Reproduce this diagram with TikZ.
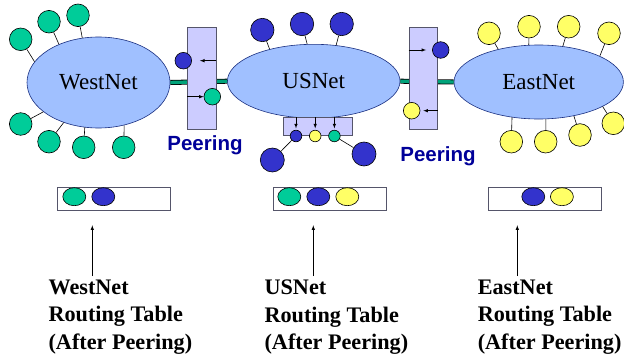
\documentclass[tikz,border=0pt]{standalone}
\usepackage{fontspec}
\setmainfont{Liberation Serif}
\setsansfont{Liberation Sans}
\usetikzlibrary{shapes}
\usetikzlibrary{positioning}

\definecolor{netfill}{HTML}{A0C0FF}
\definecolor{netline}{HTML}{1A2F80}
\definecolor{peerfill}{HTML}{CCCCFF}
\definecolor{peerline}{HTML}{55556A}
\definecolor{westgreen}{HTML}{00CC99}
\definecolor{usblue}{HTML}{3333CC}
\definecolor{eastyellow}{HTML}{FFFF66}
\definecolor{linkgreen}{HTML}{00A37A}
\definecolor{peertext}{HTML}{000099}

\begin{document}
\begin{tikzpicture}[x=1pt, y=-1pt, >=latex, line width=0.6pt,
            net/.style = {ellipse,draw=netline,fill=netfill,inner sep=0,
                font=\fontsize{23}{27}\selectfont},
            sat/.style = {circle,draw,inner sep=0,minimum size=22.6pt},
            peerbox/.style = {draw=peerline,fill=peerfill,inner sep=0},
            dot/.style = {circle,draw,inner sep=0,minimum size=16.6pt},
            tinydot/.style = {circle,draw,inner sep=0,minimum size=11.6pt},
            tabbox/.style = {draw=peerline,fill=white,inner sep=0,
                minimum width=113pt,minimum height=23pt},
            tabdot/.style = {ellipse,draw,inner sep=0,
                minimum width=23pt,minimum height=18pt},
            peerlabel/.style = {text=peertext,
                font=\sffamily\bfseries\fontsize{20.5}{24}\selectfont},
            tablabel/.style = {anchor=north west,align=left,inner sep=0,
                font=\bfseries\fontsize{22.2}{27.5}\selectfont},
            link/.style = {double=linkgreen,double distance=3.4pt,line width=0.8pt},
            tabarrow/.style = {->,shorten <=3.5pt,shorten >=14.7pt}]
    \useasboundingbox (0,0) rectangle (624,356);
    \node[net,minimum width=143pt,minimum height=91pt] (west) at (98.5,82.5) {WestNet};
    \node[net,minimum width=172.6pt,minimum height=73.8pt] (us) at (313.7,81.2) {USNet};
    \node[net,minimum width=169.4pt,minimum height=74pt] (east) at (538.7,82) {EastNet};
    \draw[link] (west.east) -- (us.west) (us.east) -- (east.west);

    \node[sat,fill=westgreen] (w1) at (20.7,39.3) {};
    \node[sat,fill=westgreen] (w2) at (49,21.7) {};
    \node[sat,fill=westgreen] (w3) at (78,15.3) {};
    \node[sat,fill=westgreen] (w4) at (20.7,124) {};
    \node[sat,fill=westgreen] (w5) at (49,141.7) {};
    \node[sat,fill=westgreen] (w6) at (83.7,147.3) {};
    \node[sat,fill=westgreen] (w7) at (123.7,147.3) {};
    \draw (w1) -- (west.162) (w2) -- (west.136) (w3) -- (west.110)
        (w4) -- (west.208) (w5) -- (west.229) (w6) -- (west.253) (w7) -- (west.301);

    \node[sat,fill=usblue,minimum size=23.4pt] (u1) at (262.3,30) {};
    \node[sat,fill=usblue,minimum size=23.4pt] (u2) at (302,24) {};
    \node[sat,fill=usblue,minimum size=23.4pt] (u3) at (341.7,24) {};
    \draw (u1) -- (us.144) (u2) -- (us.100) (u3) -- (us.58);

    \node[sat,fill=eastyellow] (e1) at (489,33.3) {};
    \node[sat,fill=eastyellow] (e2) at (529,26.7) {};
    \node[sat,fill=eastyellow] (e3) at (568.7,26.7) {};
    \node[sat,fill=eastyellow] (e4) at (609,33.3) {};
    \node[sat,fill=eastyellow] (e5) at (511.3,141.7) {};
    \node[sat,fill=eastyellow] (e6) at (545.7,141.7) {};
    \node[sat,fill=eastyellow] (e7) at (580,135) {};
    \node[sat,fill=eastyellow] (e8) at (613.3,123.3) {};
    \draw (e1) -- (east.141) (e2) -- (east.105) (e3) -- (east.56) (e4) -- (east.23)
        (e5) -- (east.233) (e6) -- (east.281) (e7) -- (east.316) (e8) -- (east.339);

    \node[peerbox,minimum width=28.4pt,minimum height=101.6pt] (peer1) at (201.8,78.5) {};
    \node[peerbox,minimum width=28.4pt,minimum height=101.6pt] (peer2) at (423,78.5) {};
    \node[dot,fill=usblue] (p1b) at (183.3,60.7) {};
    \node[dot,fill=westgreen] (p1g) at (212.3,96.7) {};
    \node[dot,fill=usblue] (p2b) at (440.7,50) {};
    \node[dot,fill=eastyellow] (p2y) at (411.7,110.7) {};
    \draw[->,shorten >=8pt] (peer1.east |- p1b) -- (p1b);
    \draw[->] (peer1.west |- p1g) -- (p1g);
    \draw[->,shorten >=6pt] (peer2.west |- p2b) -- (p2b);
    \draw[->,shorten >=3pt] (peer2.east |- p2y) -- (p2y);
    \node[peerlabel] (peering1) at (205,145) {Peering};
    \node[peerlabel] (peering2) at (438,156) {Peering};

    \node[peerbox,minimum width=68.7pt,minimum height=18.4pt] (ubox) at (317.6,126.5) {};
    \node[tinydot,fill=usblue] (ub) at (296,136) {};
    \node[tinydot,fill=eastyellow,right=7pt of ub] (uy) {};
    \node[tinydot,fill=westgreen,right=7pt of uy] (ug) {};
    \draw[->,shorten >=1.5pt] (ubox.north -| ub) -- (ub);
    \draw[->,shorten >=1.5pt] (ubox.north -| uy) -- (uy);
    \draw[->,shorten >=1.5pt] (ubox.north -| ug) -- (ug);
    \node[sat,fill=usblue,minimum size=24pt] (ul) at (272.3,160) {};
    \node[sat,fill=usblue,minimum size=24pt] (ur) at (364,154) {};
    \draw (ub) -- (ul) (ug) -- (ur);

    \node[tabbox] (tab1) at (114.2,198.8) {};
    \node[tabdot,fill=westgreen] (t1g) at (74.3,196.7) {};
    \node[tabdot,fill=usblue,right=5.4pt of t1g] (t1b) {};
    \node[tabbox] (tab2) at (329.3,198.8) {};
    \node[tabdot,fill=westgreen] (t2g) at (289.3,196.7) {};
    \node[tabdot,fill=usblue,right=5.4pt of t2g] (t2b) {};
    \node[tabdot,fill=eastyellow,right=5.4pt of t2b] (t2y) {};
    \node[tabbox] (tab3) at (544.8,198.8) {};
    \node[tabdot,fill=usblue] (t3b) at (533.3,196.7) {};
    \node[tabdot,fill=eastyellow,right=5pt of t3b] (t3y) {};

    \node[tablabel] (lab1) at (48.3,279.5) {WestNet\\Routing Table\\(After Peering)};
    \node[tablabel] (lab2) at (264.3,279.5) {USNet\\Routing Table\\(After Peering)};
    \node[tablabel] (lab3) at (477.5,279.5) {EastNet\\Routing Table\\(After Peering)};
    \draw[tabarrow] ([xshift=-21.9pt]tab1.south |- lab1.north) -- ([xshift=-21.9pt]tab1.south);
    \draw[tabarrow] ([xshift=-16pt]tab2.south |- lab2.north) -- ([xshift=-16pt]tab2.south);
    \draw[tabarrow] ([xshift=-27.5pt]tab3.south |- lab3.north) -- ([xshift=-27.5pt]tab3.south);
\end{tikzpicture}
\end{document}
